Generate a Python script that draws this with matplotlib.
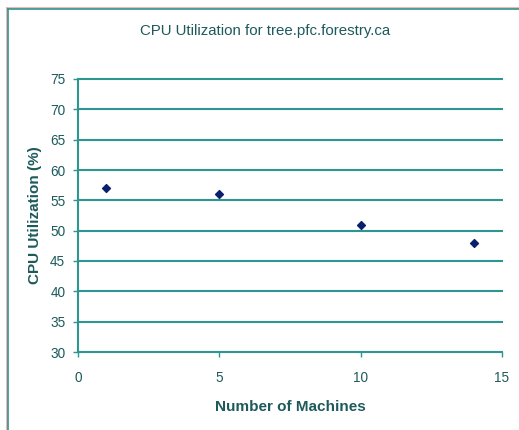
import matplotlib.pyplot as plt
from matplotlib.lines import Line2D

plt.rcParams['font.family'] = ['Liberation Sans', 'DejaVu Sans']

machines = [1, 5, 10, 14]
cpu_util = [57, 56, 51, 48]

teal = '#2e9690'
pink = '#f4a7a7'
text_col = '#1d5a5c'

fig = plt.figure(figsize=(5.19, 4.30), dpi=100)
ax = fig.add_axes([78 / 519, 1 - 352 / 430, 424 / 519, 273 / 430])

ax.set_xlim(0, 15)
ax.set_ylim(30, 75)
ax.set_xticks([0, 5, 10, 15])
ax.set_yticks(range(30, 76, 5))

# horizontal gridlines
for y in range(30, 76, 5):
    ax.axhline(y, color=teal, lw=1.5, zorder=2, clip_on=False)

for s in ['top', 'right', 'bottom']:
    ax.spines[s].set_visible(False)
ax.spines['left'].set_color(teal)
ax.spines['left'].set_linewidth(1.5)
ax.spines['left'].set_zorder(2)

ax.tick_params(axis='both', direction='out', length=3.6, width=1.0, color=teal,
               labelsize=9.8, labelcolor=text_col)
ax.tick_params(axis='y', pad=5.5)
ax.tick_params(axis='x', pad=10)

ax.scatter(machines, cpu_util, marker='D', s=16, color='#0a1f6e', zorder=3)

fig.text(265 / 519, 1 - 31 / 430, 'CPU Utilization for tree.pfc.forestry.ca',
         fontsize=10.8, color=text_col, ha='center', va='center')
ax.set_xlabel('Number of Machines', fontsize=11, fontweight='bold',
              color=text_col, labelpad=11)
ax.set_ylabel('CPU Utilization (%)', fontsize=11, fontweight='bold',
              color=text_col, labelpad=6)

# outer chart border (top and left edges)
for dx, col in [(-1.2, pink), (0, teal)]:
    fig.add_artist(Line2D([(8 + dx) / 519, 1.0], [1 - (9 + dx) / 430] * 2,
                          transform=fig.transFigure, color=col, lw=1.2))
    fig.add_artist(Line2D([(8 + dx) / 519] * 2, [0.0, 1 - (9 + dx) / 430],
                          transform=fig.transFigure, color=col, lw=1.2))

fig.savefig('out.png', dpi=100)
